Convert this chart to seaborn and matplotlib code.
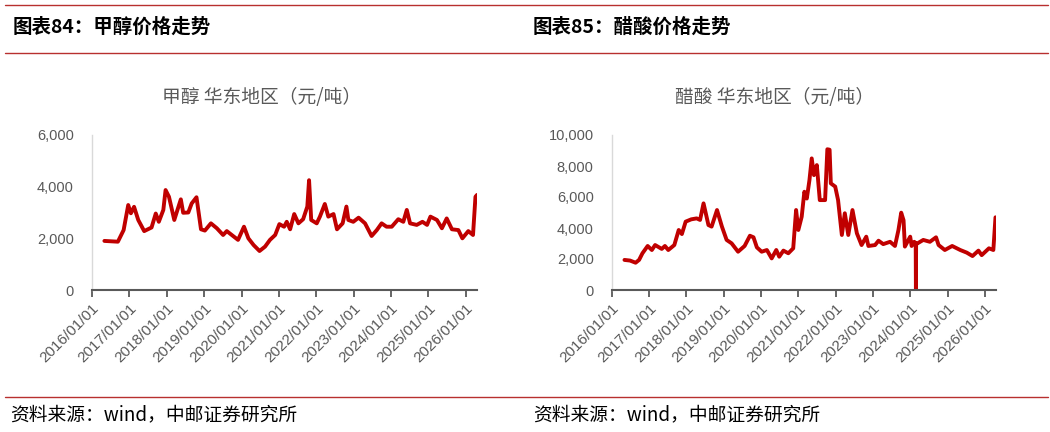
import numpy as np
import pandas as pd
import matplotlib
matplotlib.use('Agg')
import matplotlib.pyplot as plt
from matplotlib.lines import Line2D
from matplotlib.ticker import FuncFormatter
import matplotlib.dates as mdates
import seaborn as sns

# ---------------- data ----------------
methanol_dates = [
    "2016-05-01", "2016-09-10", "2016-11-05", "2016-12-20", "2017-01-15", "2017-02-15",
    "2017-03-28", "2017-05-25", "2017-08-05", "2017-09-15", "2017-10-15", "2017-11-28",
    "2017-12-20", "2018-01-22", "2018-03-15", "2018-04-15", "2018-05-18", "2018-06-10",
    "2018-07-30", "2018-09-01", "2018-10-18", "2018-12-01", "2019-01-08", "2019-03-08",
    "2019-05-05", "2019-07-05", "2019-08-10", "2019-11-28", "2020-01-25", "2020-03-08",
    "2020-04-28", "2020-06-25", "2020-08-18", "2020-10-05", "2020-11-25", "2021-01-05",
    "2021-02-20", "2021-03-18", "2021-04-20", "2021-05-30", "2021-07-10", "2021-08-25",
    "2021-10-05", "2021-10-22", "2021-11-12", "2022-01-05", "2022-02-05", "2022-03-25",
    "2022-04-28", "2022-06-18", "2022-07-22", "2022-09-15", "2022-10-22", "2022-11-10",
    "2022-12-28", "2023-02-18", "2023-04-22", "2023-06-25", "2023-08-15", "2023-10-01",
    "2023-11-18", "2024-01-08", "2024-03-12", "2024-04-30", "2024-06-03", "2024-07-05",
    "2024-09-08", "2024-11-03", "2024-12-18", "2025-01-20", "2025-03-25", "2025-05-12",
    "2025-06-28", "2025-08-18", "2025-10-20", "2025-11-28", "2026-01-25", "2026-03-12",
    "2026-04-05", "2026-04-20",
]
methanol_values = [
    1900, 1870, 2320, 3290, 2970, 3220,
    2710, 2280, 2420, 2960, 2640, 3100,
    3870, 3610, 2710, 3100, 3510, 2990,
    3000, 3350, 3590, 2350, 2300, 2580,
    2390, 2130, 2280, 1940, 2450, 2000,
    1740, 1510, 1680, 1940, 2130, 2550,
    2450, 2640, 2350, 2940, 2580, 2740,
    3230, 4250, 2710, 2580, 2840, 3330,
    2840, 2940, 2350, 2580, 3230, 2710,
    2640, 2800, 2580, 2090, 2320, 2580,
    2450, 2450, 2740, 2640, 3100, 2580,
    2520, 2640, 2520, 2840, 2710, 2390,
    2770, 2350, 2320, 2000, 2280, 2130,
    3610, 3680,
]

acetic_dates = [
    "2016-05-05", "2016-06-28", "2016-08-22", "2016-09-25", "2016-10-28", "2016-12-18",
    "2017-01-28", "2017-03-01", "2017-05-05", "2017-06-05", "2017-07-08", "2017-09-05",
    "2017-10-18", "2017-11-18", "2017-12-25", "2018-02-18", "2018-04-12", "2018-05-15",
    "2018-06-18", "2018-08-05", "2018-09-05", "2018-10-28", "2018-12-15", "2019-01-30",
    "2019-03-20", "2019-05-22", "2019-07-25", "2019-09-15", "2019-10-20", "2019-11-22",
    "2020-01-08", "2020-02-28", "2020-04-15", "2020-05-30", "2020-06-28", "2020-08-08",
    "2020-09-25", "2020-11-12", "2020-12-10", "2021-01-01", "2021-02-03", "2021-03-01",
    "2021-03-25", "2021-04-20", "2021-05-12", "2021-06-03", "2021-07-01", "2021-07-30",
    "2021-09-20", "2021-10-12", "2021-11-03", "2021-11-15", "2021-12-28", "2022-01-25",
    "2022-03-03", "2022-04-01", "2022-05-05", "2022-06-15", "2022-07-28", "2022-09-12",
    "2022-10-28", "2022-11-18", "2023-01-22", "2023-02-25", "2023-04-12", "2023-06-18",
    "2023-08-05", "2023-09-08", "2023-10-05", "2023-10-28", "2023-11-10", "2024-01-01",
    "2024-01-15", "2024-02-10", "2024-02-24", "2024-02-26", "2024-02-28", "2024-03-10",
    "2024-05-08", "2024-07-12", "2024-09-10", "2024-10-05", "2024-12-05", "2025-02-15",
    "2025-05-05", "2025-07-08", "2025-09-02", "2025-10-30", "2025-12-01", "2026-02-10",
    "2026-03-25", "2026-04-15",
]
acetic_values = [
    1940, 1900, 1760, 1940, 2370, 2840,
    2580, 2900, 2650, 2840, 2580, 2900,
    3870, 3610, 4410, 4560, 4620, 4520,
    5590, 4190, 4090, 5160, 4090, 3230,
    3010, 2470, 2840, 3500, 3400, 2750,
    2470, 2580, 2040, 2580, 2150, 2540,
    2370, 2690, 5160, 3870, 4730, 6340,
    5900, 7100, 8490, 7410, 8060, 5800,
    5800, 9080, 9050, 6880, 6670, 5800,
    3550, 4950, 3550, 5160, 3660, 2900,
    3440, 2840, 2900, 3180, 2960, 3110,
    2840, 3870, 4990, 4500, 2800, 3440,
    2840, 3110, 3000, 0, 3000, 3000,
    3230, 3110, 3400, 2900, 2580, 2840,
    2580, 2410, 2190, 2540, 2250, 2690,
    2580, 4690,
]

section_titles = ["图表84：甲醇价格走势", "图表85：醋酸价格走势"]
chart_titles = ["甲醇 华东地区（元/吨）", "醋酸 华东地区（元/吨）"]
y_ticks = [[0, 2000, 4000, 6000], [0, 2000, 4000, 6000, 8000, 10000]]
tick_years = list(range(2016, 2027))
source_text = "资料来源：wind，中邮证券研究所"

# ---------------- style ----------------
sns.set_theme(style="white")
plt.rcParams["font.family"] = ["Liberation Sans", "Noto Sans CJK SC", "DejaVu Sans"]
CJK = ["Noto Sans CJK SC", "DejaVu Sans"]
RED = "#C00000"
RULE = "#B8302F"
GRAY = "#595959"

W, H = 1050, 432
fig = plt.figure(figsize=(W / 100, H / 100), dpi=100)
fig.patch.set_facecolor("white")


def rect(x0, x1, ytop, ybot):
    return [x0 / W, 1 - ybot / H, (x1 - x0) / W, (ybot - ytop) / H]


ax1 = fig.add_axes(rect(92, 477, 135, 290))
ax2 = fig.add_axes(rect(611.7, 996, 135, 290))

series = [
    (ax1, methanol_dates, methanol_values, y_ticks[0]),
    (ax2, acetic_dates, acetic_values, y_ticks[1]),
]

xticks = [pd.Timestamp(f"{y}-01-01") for y in tick_years]

for ax, dates, vals, yt in series:
    df = pd.DataFrame({"date": pd.to_datetime(dates), "value": vals})
    sns.lineplot(data=df, x="date", y="value", ax=ax, color=RED,
                 linewidth=2.8, estimator=None, sort=False)
    ax.set_xlabel("")
    ax.set_ylabel("")
    ax.set_ylim(yt[0], yt[-1])
    ax.set_yticks(yt)
    ax.yaxis.set_major_formatter(FuncFormatter(lambda v, p: f"{int(v):,}"))
    ax.set_xlim(pd.Timestamp("2016-01-01"), pd.Timestamp("2026-04-20"))
    ax.set_xticks(xticks)
    ax.xaxis.set_major_formatter(mdates.DateFormatter("%Y/%m/%d"))
    for s in ["top", "right"]:
        ax.spines[s].set_visible(False)
    ax.spines["left"].set_color("#D9D9D9")
    ax.spines["left"].set_linewidth(1.0)
    ax.spines["bottom"].set_color(GRAY)
    ax.spines["bottom"].set_linewidth(1.5)
    ax.tick_params(axis="x", bottom=True, direction="out", length=5, width=1.3,
                   color=GRAY, labelcolor=GRAY, labelsize=11, pad=3)
    ax.tick_params(axis="y", left=False, length=0, labelcolor=GRAY,
                   labelsize=10.5, pad=13)
    for lab in ax.get_xticklabels():
        lab.set_rotation(45)
        lab.set_ha("right")
        lab.set_va("top")
        lab.set_rotation_mode("anchor")
    ax.grid(False)
    ax.set_facecolor("white")

# chart titles
fig.text(262 / W, 1 - 97 / H, chart_titles[0], ha="center", va="center",
         fontsize=13.5, color=GRAY, family=CJK)
fig.text(775 / W, 1 - 97 / H, chart_titles[1], ha="center", va="center",
         fontsize=13.5, color=GRAY, family=CJK)

# section titles
fig.text(13 / W, 1 - 27 / H, section_titles[0], ha="left", va="center",
         fontsize=14, fontweight="bold", color="black", family=CJK)
fig.text(533 / W, 1 - 27 / H, section_titles[1], ha="left", va="center",
         fontsize=14, fontweight="bold", color="black", family=CJK)

# footers
fig.text(10 / W, 1 - 415 / H, source_text, ha="left", va="center",
         fontsize=13.5, color="black", family=CJK)
fig.text(533 / W, 1 - 415 / H, source_text, ha="left", va="center",
         fontsize=13.5, color="black", family=CJK)

# red rules
for y in [5, 53, 397]:
    fig.add_artist(Line2D([5 / W, 1048 / W], [1 - y / H, 1 - y / H],
                          transform=fig.transFigure, color=RULE, linewidth=1.0))

fig.savefig("out.png", dpi=100, facecolor="white")
